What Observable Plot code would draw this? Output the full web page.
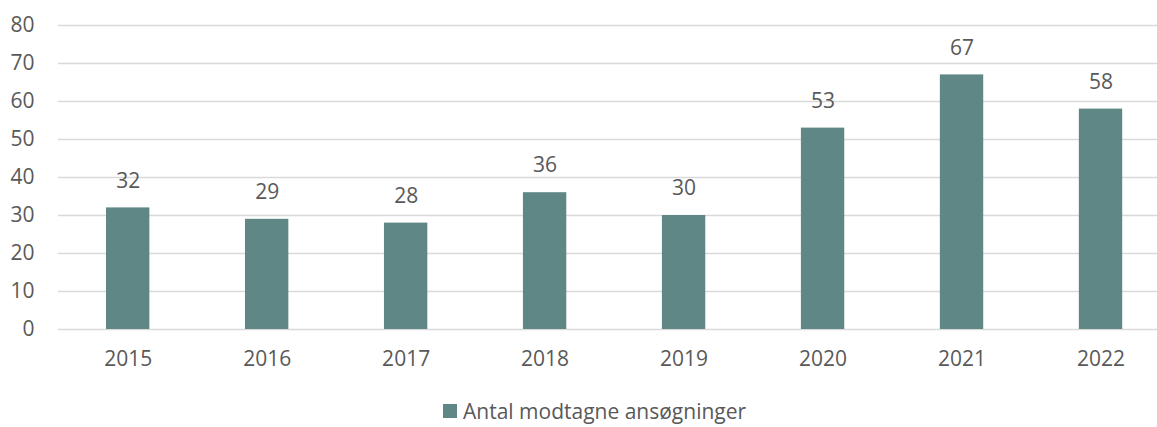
<!DOCTYPE html>
<html>
<head>
<meta charset="utf-8">
<script src="https://cdn.jsdelivr.net/npm/d3@7"></script>
<script src="https://cdn.jsdelivr.net/npm/@observablehq/plot@0.6"></script>
<style>
  body { margin: 0; background: #fff; font-family: "Open Sans", sans-serif; }
  #wrap { position: relative; width: 1157px; height: 427px; overflow: hidden; }
  #legend { position: absolute; left: 443px; top: 398px; height: 26px; display: flex; align-items: center; font-size: 21px; line-height: 26px; color: #595959; white-space: nowrap; }
  #legend .sw { width: 14px; height: 14px; background: #5f8785; margin-right: 6px; }
</style>
</head>
<body>
<div id="wrap">
  <div id="chart"></div>
  <div id="legend"><span class="sw"></span><span id="legendText"></span></div>
</div>
<script>
const years = ["2015", "2016", "2017", "2018", "2019", "2020", "2021", "2022"];
const applications = [32, 29, 28, 36, 30, 53, 67, 58];
const yTicks = [0, 10, 20, 30, 40, 50, 60, 70, 80];
const seriesName = "Antal modtagne ansøgninger";

const data = years.map((y, i) => ({ year: y, value: applications[i] }));
const textColor = "#595959";
const barColor = "#5f8785";

const chart = Plot.plot({
  width: 1157,
  height: 390,
  marginTop: 25,
  marginBottom: 61,
  marginLeft: 58,
  marginRight: 0,
  style: { fontFamily: "'Open Sans', sans-serif", fontSize: "21px", color: textColor, background: "#fff" },
  x: { domain: years, range: [58.2, 1170], round: false, paddingInner: 0.688, paddingOuter: 0.344, label: null },
  y: { domain: [0, 80], label: null },
  marks: [
    Plot.gridY(yTicks, { stroke: "#d9d9d9", strokeOpacity: 1, strokeWidth: 1.5 }),
    Plot.barY(data, { x: "year", y: "value", fill: barColor }),
    Plot.text(data, { x: "year", y: "value", text: d => String(d.value), dy: -27, fill: textColor, fontSize: 21 }),
    Plot.axisY(yTicks, { tickSize: 0, tickPadding: 24, fontSize: 21, fill: textColor, label: null }),
    Plot.axisX({ tickSize: 0, tickPadding: 22, fontSize: 21, fill: textColor, label: null })
  ]
});
document.getElementById("chart").appendChild(chart);
document.getElementById("legendText").textContent = seriesName;
</script>
</body>
</html>
